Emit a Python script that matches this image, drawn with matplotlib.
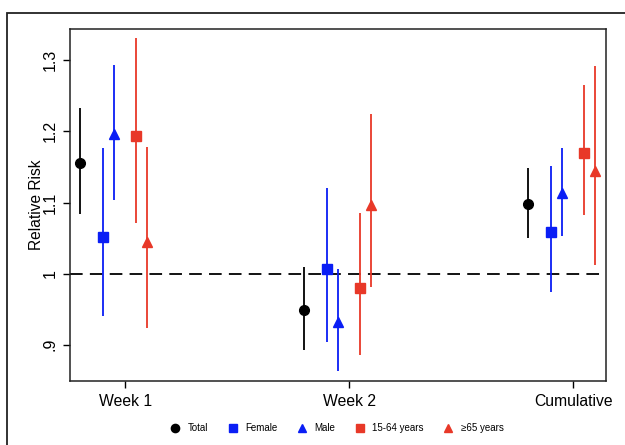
import matplotlib
matplotlib.use("Agg")
import matplotlib.pyplot as plt
from matplotlib.patches import Rectangle
from matplotlib.lines import Line2D

plt.rcParams['font.family'] = ['Liberation Sans', 'DejaVu Sans']

periods = ["Week 1", "Week 2", "Cumulative"]
series = ["Total", "Female", "Male", "15-64 years", "≥65 years"]

total_rr = [1.156, 0.949, 1.098]
total_lo = [1.084, 0.892, 1.050]
total_hi = [1.233, 1.010, 1.148]

female_rr = [1.052, 1.007, 1.059]
female_lo = [0.941, 0.904, 0.974]
female_hi = [1.177, 1.120, 1.151]

male_rr = [1.196, 0.932, 1.114]
male_lo = [1.104, 0.863, 1.053]
male_hi = [1.294, 1.006, 1.177]

age1564_rr = [1.194, 0.980, 1.169]
age1564_lo = [1.071, 0.885, 1.082]
age1564_hi = [1.331, 1.085, 1.265]

age65_rr = [1.044, 1.097, 1.144]
age65_lo = [0.923, 0.981, 1.012]
age65_hi = [1.178, 1.224, 1.292]

yticks = [0.9, 1.0, 1.1, 1.2, 1.3]
ytick_labels = [".9", "1", "1.1", "1.2", "1.3"]

blue = '#0a1ef5'
red = '#e83828'
styles = [
    ('black', 'o', -0.20, 7.0),
    (blue, 's', -0.10, 6.5),
    (blue, '^', -0.05, 7.5),
    (red, 's', 0.05, 6.5),
    (red, '^', 0.10, 7.5),
]
data = [
    (total_rr, total_lo, total_hi),
    (female_rr, female_lo, female_hi),
    (male_rr, male_lo, male_hi),
    (age1564_rr, age1564_lo, age1564_hi),
    (age65_rr, age65_lo, age65_hi),
]

fig = plt.figure(figsize=(6.25, 4.45), dpi=100)
ax = fig.add_axes([70/625, 1-381/445, (606-70)/625, (381-29)/445])

xs = [1, 2, 3]
for (rr, lo, hi), (c, m, off, ms) in zip(data, styles):
    for x, r, l, h in zip(xs, rr, lo, hi):
        ax.plot([x+off, x+off], [l, h], color=c, lw=1.3, solid_capstyle='butt', zorder=2)
    ax.plot([x+off for x in xs], rr, linestyle='none', marker=m, color=c, ms=ms, zorder=3)

ax.axhline(1.0, color='black', lw=1.3, dashes=(7, 4), zorder=1)

ax.set_xlim(0.754, 3.147)
ax.set_ylim(0.849, 1.344)
ax.set_xticks(xs)
ax.set_xticklabels(periods, fontsize=11.3)
ax.set_yticks(yticks)
ax.set_yticklabels(ytick_labels, fontsize=11.5, rotation=90, va='center')
ax.set_ylabel("Relative Risk", fontsize=11.2, labelpad=-1)
ax.tick_params(axis='both', direction='out', length=5, width=1, color='black')
ax.tick_params(axis='x', pad=4)
ax.tick_params(axis='y', pad=4)
for s in ax.spines.values():
    s.set_linewidth(1.1)
    s.set_color('#222222')

handles = [Line2D([], [], linestyle='none', marker=m, color=c, ms=ms*0.85)
           for (c, m, off, ms) in styles]
fig.legend(handles, series, loc='center', bbox_to_anchor=(337/625, 1-428/445), ncol=5,
           frameon=False, fontsize=7, handletextpad=0.8, columnspacing=2.0, handlelength=1.0)

fig.patches.append(Rectangle((7/625, -0.1), 1.2, 1-13/445+0.1, transform=fig.transFigure,
                             fill=False, edgecolor='#222222', lw=1.3, zorder=0))

fig.savefig("out.png", dpi=100)
